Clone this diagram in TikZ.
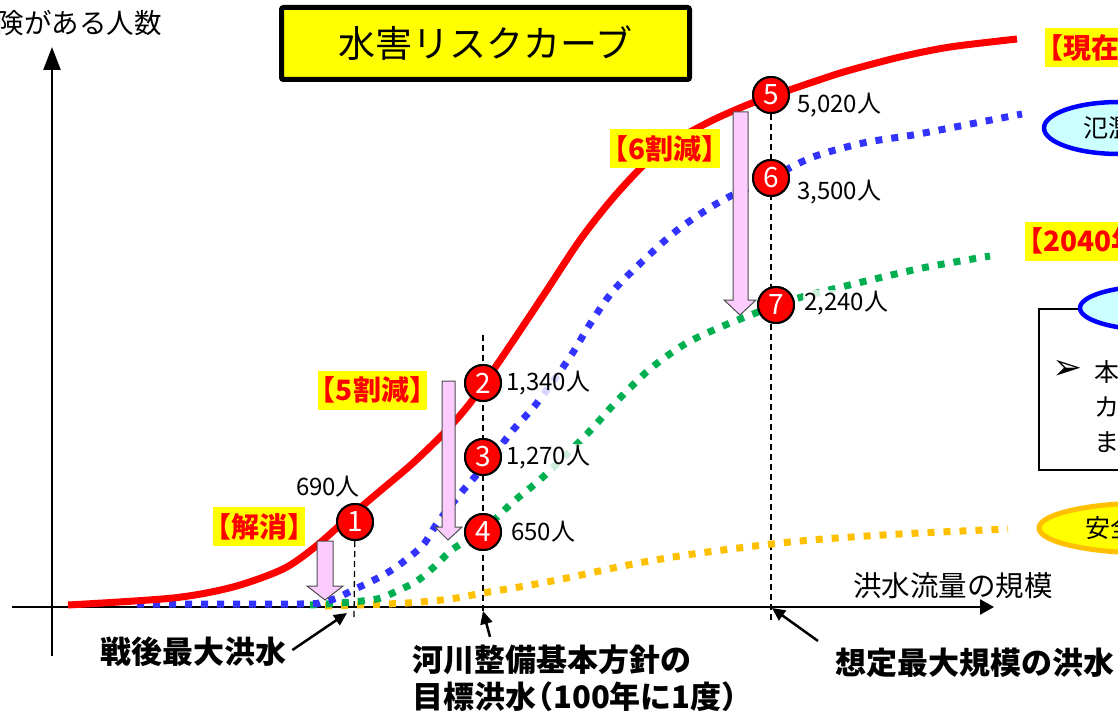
\documentclass[tikz,border=0pt]{standalone}
\usepackage{fontspec}
\setmainfont{Noto Sans CJK JP}
\newfontfamily\dejavu{DejaVu Sans}
\usetikzlibrary{arrows.meta,shapes.geometric}
\definecolor{rred}{HTML}{FF0000}
\definecolor{rblue}{HTML}{3333FF}
\definecolor{eblue}{HTML}{0000FF}
\definecolor{rgreen}{HTML}{00B050}
\definecolor{rorange}{HTML}{FFC000}
\definecolor{rpink}{HTML}{FCCCFF}
\definecolor{rcyan}{HTML}{CCFFFF}
\definecolor{ryellow}{HTML}{FFFF00}
\newcommand\LBk{\kern-0.38em【}
\newcommand\RBk{】\kern-0.38em}
\begin{document}
\begin{tikzpicture}[x=1pt,y=-1pt,
  axisline/.style={line width=2.5pt},
  redcurve/.style={line width=7pt, color=rred},
  dotcurve/.style={line width=7pt, dash pattern=on 7pt off 9pt},
  vguide/.style={line width=1.3pt, dash pattern=on 6pt off 4pt},
  numc/.style={circle, draw=black, line width=2pt, fill=rred, text=white, minimum size=36pt, inner sep=0pt, font=\fontsize{28}{28}\selectfont},
  vlab/.style={fill=white, fill opacity=0.8, text opacity=1, inner sep=1pt, font=\fontsize{24}{24}\selectfont},
  redlab/.style={fill=ryellow, text=rred, font=\bfseries\fontsize{28}{28}\selectfont, inner sep=1pt, minimum height=39pt},
  botlab/.style={font=\bfseries\fontsize{31}{31}\selectfont, inner sep=0pt},
  pinkarrow/.style={fill=rpink, draw=black!70, line width=1pt},
  lblarrow/.style={line width=2.5pt, -{Triangle[length=13pt,width=12pt]}},
  plaintext/.style={inner sep=0pt, font=\fontsize{25}{25}\selectfont}
]
\useasboundingbox (0,0) rectangle (1118,714);
\clip (0,0) rectangle (1118,714);

% title
\node[draw=black, line width=5pt, rounded corners=2pt, fill=ryellow, minimum width=408pt, minimum height=72pt, font=\fontsize{37}{37}\selectfont] (title) at (485.5,43.5) {水害リスクカーブ};

% axis label top
\node[anchor=east, inner sep=0pt, font=\fontsize{27.5}{27.5}\selectfont] (ylab) at (162,23) {険がある人数};

% axes
\coordinate (yb) at (52,656);
\coordinate (yt) at (52,47);
\draw[axisline, -{Triangle[length=23pt,width=17pt]}] (yb) -- (yt);
\coordinate (xl) at (12,607);
\coordinate (xr) at (994,607);
\draw[axisline, -{Triangle[length=14pt,width=15pt]}] (xl) -- (xr);
\node[anchor=east, inner sep=0pt, font=\fontsize{28.5}{28.5}\selectfont] (xlab) at (1053,586) {洪水流量の規模};

% circles (positions)
\node[numc] (c1) at (355,522) {1};
\node[numc] (c2) at (483,383) {2};
\node[numc] (c3) at (483,457) {3};
\node[numc] (c4) at (483,532) {4};
\node[numc] (c5) at (771,95) {5};
\node[numc] (c6) at (771,178) {6};
\node[numc] (c7) at (776,305) {7};

% guides
\coordinate (g1) at (354,618);
\coordinate (g2t) at (483,335);
\coordinate (g2b) at (483,622);
\coordinate (g3b) at (771,622);
\draw[vguide] (c1) -- (g1);
\draw[vguide] (g2t) -- (g2b);
\draw[vguide] (c5) -- (g3b);

% curves
\draw[dotcurve, rorange] plot[smooth] coordinates {(325,606) (357,605) (407,603) (450,599) (483,593) (525,586) (567,578) (633,564) (700,553) (800,541) (900,534) (1008,529)};
\draw[dotcurve, rgreen] plot[smooth] coordinates {(310,605) (340,603) (377,599) (397,591) (417,581) (435,566) (453,549) (483,530) (513,502) (543,477) (587,434) (617,401) (650,369) (685,344) (723,326) (777,305) (813,294) (913,270) (955,262) (990,256)};
\draw[dotcurve, rblue] plot[smooth] coordinates {(137,604) (300,604) (322,602) (337,598) (353,590) (370,582) (387,573) (403,562) (423,545) (438,522) (460,494) (473,479) (493,456) (513,430) (537,403) (570,357) (590,324) (613,291) (647,257) (680,228) (723,200) (772,177) (813,157) (863,143) (913,135) (955,127) (1022,114)};
\draw[redcurve] plot[smooth] coordinates {(68,605) (173,598) (233,587) (283,569) (315,547) (348,518) (380,491) (413,463) (445,432) (467,407) (483,385) (507,350) (545,293) (580,240) (613,198) (647,162) (680,138) (713,120) (747,105) (772,96) (813,82) (847,71) (900,57) (950,47) (1017,39)};

% value labels
\node[vlab] (v1) at (328,487) {690人};
\node[vlab, anchor=west] (v2) at (505,383) {1,340人};
\node[vlab, anchor=west] (v3) at (505,457) {1,270人};
\node[vlab, anchor=west] (v4) at (510,532) {650人};
\node[vlab, anchor=west] (v5) at (796,105) {5,020人};
\node[vlab, anchor=west] (v6) at (796,192) {3,500人};
\node[vlab, anchor=west] (v7) at (803,303) {2,240人};

% pink arrows
\draw[pinkarrow] (317,541) -- (333,541) -- (333,586) -- (343,586) -- (325,600) -- (307,586) -- (317,586) -- cycle;
\draw[pinkarrow] (442,381) -- (455,381) -- (455,527) -- (462,527) -- (448,540) -- (435,527) -- (442,527) -- cycle;
\draw[pinkarrow] (733,112) -- (748,112) -- (748,300) -- (756,300) -- (740,315) -- (724,300) -- (733,300) -- cycle;

% circles on top
\foreach \p/\t in {{(355,522)}/1, {(483,383)}/2, {(483,457)}/3, {(483,532)}/4, {(771,95)}/5, {(771,178)}/6, {(776,305)}/7}
  \node[numc] at \p {\t};

% red labels
\node[redlab] (r1) at (259,526.5) {\LBk 解消\RBk};
\node[redlab] (r2) at (372.5,390) {\LBk 5割減\RBk};
\node[redlab] (r3) at (665,149) {\LBk 6割減\RBk};
\node[redlab, anchor=west] (r4) at (1045,47.5) {\LBk 現在};
\node[redlab, anchor=west] (r5) at (1025,241) {\LBk 2040年};

% right side shapes
\node[draw=black, line width=1.5pt, anchor=north west, minimum width=120pt, minimum height=161pt, inner sep=0pt] (bx) at (1038,308) {};
\node[ellipse, draw=eblue, line width=4.5pt, fill=rcyan, minimum width=150pt, minimum height=52pt, inner sep=0pt] (e1) at (1119,128) {};
\node[plaintext, anchor=west] (e1t) at (1083,128) {氾濫};
\node[ellipse, draw=eblue, line width=4.5pt, fill=rcyan, minimum width=150pt, minimum height=44pt, inner sep=0pt] (e2) at (1155,308) {};
\node[ellipse, draw=rorange, line width=5pt, fill=ryellow, minimum width=220pt, minimum height=50pt, inner sep=0pt] (e3) at (1149,528) {};
\node[plaintext, anchor=west] (e3t) at (1085,528) {安全};
\node[inner sep=0pt, font=\dejavu\fontsize{36}{36}\selectfont] (bul) at (1068,370) {➢};
\node[plaintext, anchor=west] (l1) at (1094,372) {本};
\node[plaintext, anchor=west] (l2) at (1094,407) {カ};
\node[plaintext, anchor=west] (l3) at (1094,442) {ま};

% bottom labels
\node[botlab, anchor=west] (b1) at (100,652) {戦後最大洪水};
\node[botlab, anchor=west] (b2a) at (412,660) {河川整備基本方針の};
\node[botlab, anchor=west] (b2b) at (412,697) {目標洪水\kern-0.45em（100年に1度）};
\node[botlab, anchor=west] (b3) at (835,663) {想定最大規模の洪水};
\coordinate (t1) at (347,613);
\coordinate (t2) at (483,611);
\coordinate (t3) at (772,608);
\draw[lblarrow] ([xshift=6pt,yshift=2pt]b1.east) -- (t1);
\draw[lblarrow] ([xshift=78pt,yshift=8pt]b2a.north west) -- (t2);
\draw[lblarrow] ([xshift=-17pt,yshift=7pt]b3.north west) -- (t3);
\end{tikzpicture}
\end{document}
